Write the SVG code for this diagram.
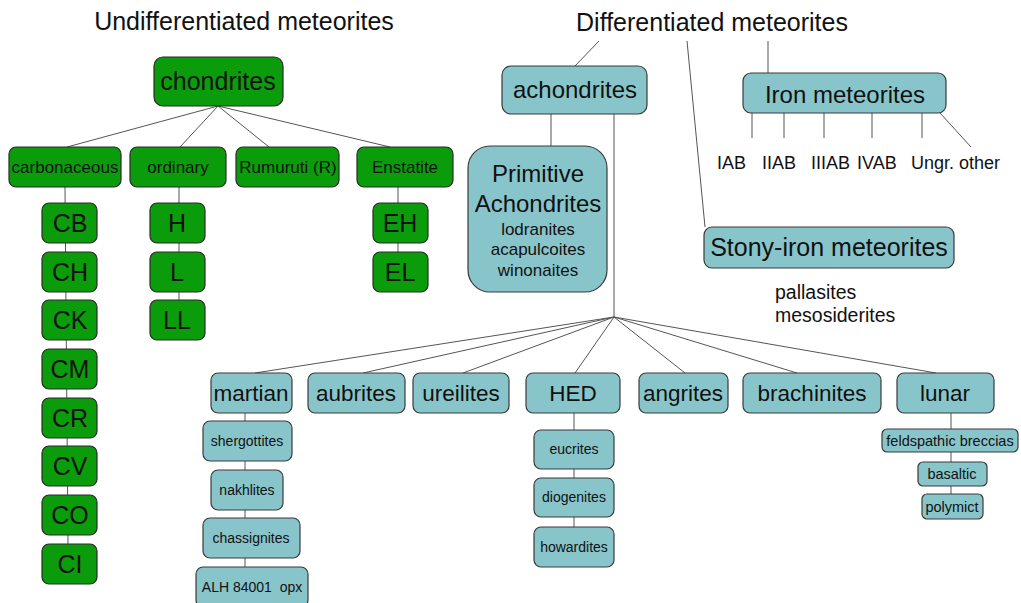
<svg xmlns="http://www.w3.org/2000/svg" width="1021" height="603" viewBox="0 0 1021 603">
<style>
text{font-family:"Liberation Sans",Arial,sans-serif;fill:#111;text-anchor:middle}
.g{fill:#0b9c0b;stroke:#2a2a2a;stroke-width:1.2}
.b{fill:#88c5cb;stroke:#3a3a3a;stroke-width:1.2}
.c line,.c path{stroke:#555;stroke-width:1;fill:none}
.t25{font-size:25px}
.t24{font-size:24px}
.t22{font-size:22.5px}
.t17{font-size:17px}
.t14{font-size:14px}
.lab{font-size:18px;text-anchor:start}
</style>
<rect width="1021" height="603" fill="#fff"/>
<text class="t25" x="244" y="30">Undifferentiated meteorites</text>
<text class="t25" x="712" y="31">Differentiated meteorites</text>
<g class="c">
<line x1="599" y1="41" x2="575" y2="66"/>
<line x1="687" y1="41" x2="705" y2="227"/>
<line x1="768" y1="41" x2="768" y2="73"/>
<line x1="218" y1="106" x2="67" y2="147"/>
<line x1="218" y1="106" x2="180" y2="147"/>
<line x1="218" y1="106" x2="269" y2="147"/>
<line x1="218" y1="106" x2="390" y2="147"/>
<line x1="65" y1="187" x2="68" y2="544"/>
<line x1="179" y1="187" x2="179" y2="301"/>
<line x1="398" y1="187" x2="398" y2="252"/>
<line x1="551" y1="114" x2="551" y2="146"/>
<line x1="614" y1="114" x2="614" y2="317"/>
<line x1="614" y1="317" x2="255" y2="373"/>
<line x1="614" y1="317" x2="363" y2="373"/>
<line x1="614" y1="317" x2="463" y2="373"/>
<line x1="614" y1="317" x2="575" y2="373"/>
<line x1="614" y1="317" x2="685" y2="373"/>
<line x1="614" y1="317" x2="797" y2="373"/>
<line x1="614" y1="317" x2="936" y2="373"/>
<line x1="245" y1="413" x2="245" y2="567"/>
<line x1="574" y1="413" x2="574" y2="527"/>
<line x1="951" y1="413" x2="951" y2="494"/>
<line x1="752" y1="113" x2="752" y2="138"/>
<line x1="784" y1="113" x2="784" y2="138"/>
<line x1="824" y1="113" x2="824" y2="138"/>
<line x1="872" y1="113" x2="872" y2="138"/>
<line x1="922" y1="113" x2="922" y2="138"/>
<line x1="940" y1="113" x2="971" y2="147"/>
</g>
<g id="chondrites"><rect class="g" x="154" y="57" width="129" height="49" rx="9"/><text class="t25" x="218" y="90">chondrites</text></g>
<g id="carbonaceous"><rect class="g" x="9" y="147" width="112" height="40" rx="7"/><text class="t17" x="65" y="173">carbonaceous</text></g>
<g id="ordinary"><rect class="g" x="130" y="147" width="96" height="40" rx="7"/><text class="t17" x="178" y="173">ordinary</text></g>
<g id="rumuruti"><rect class="g" x="236" y="147" width="103" height="40" rx="7"/><text class="t17" x="288" y="173">Rumuruti (R)</text></g>
<g id="enstatite"><rect class="g" x="357" y="147" width="96" height="40" rx="7"/><text class="t17" x="405" y="173">Enstatite</text></g>
<g id="CB"><rect class="g" x="42" y="203" width="55" height="40" rx="7"/><text class="t25" x="70" y="232">CB</text></g>
<g id="CH"><rect class="g" x="42" y="252" width="55" height="40" rx="7"/><text class="t25" x="70" y="281">CH</text></g>
<g id="CK"><rect class="g" x="42" y="300" width="55" height="40" rx="7"/><text class="t25" x="70" y="329">CK</text></g>
<g id="CM"><rect class="g" x="42" y="349" width="55" height="40" rx="7"/><text class="t25" x="70" y="378">CM</text></g>
<g id="CR"><rect class="g" x="42" y="398" width="55" height="40" rx="7"/><text class="t25" x="70" y="427">CR</text></g>
<g id="CV"><rect class="g" x="42" y="446" width="55" height="40" rx="7"/><text class="t25" x="70" y="475">CV</text></g>
<g id="CO"><rect class="g" x="42" y="495" width="55" height="40" rx="7"/><text class="t25" x="70" y="524">CO</text></g>
<g id="CI"><rect class="g" x="42" y="544" width="55" height="40" rx="7"/><text class="t25" x="70" y="573">CI</text></g>
<g id="H"><rect class="g" x="150" y="203" width="55" height="40" rx="7"/><text class="t25" x="177" y="232">H</text></g>
<g id="L"><rect class="g" x="150" y="252" width="55" height="40" rx="7"/><text class="t25" x="177" y="281">L</text></g>
<g id="LL"><rect class="g" x="150" y="300" width="55" height="40" rx="7"/><text class="t25" x="177" y="329">LL</text></g>
<g id="EH"><rect class="g" x="373" y="203" width="55" height="40" rx="7"/><text class="t25" x="400" y="232">EH</text></g>
<g id="EL"><rect class="g" x="373" y="252" width="55" height="40" rx="7"/><text class="t25" x="400" y="281">EL</text></g>
<g id="achondrites"><rect class="b" x="502" y="66" width="145" height="48" rx="9"/><text class="t24" x="575" y="98">achondrites</text></g>
<g id="primitive"><rect class="b" x="468" y="146" width="139" height="146" rx="22"/><text class="t24" x="538" y="182">Primitive</text><text class="t24" x="538" y="212">Achondrites</text><text class="t17" x="538" y="235">lodranites</text><text class="t17" x="538" y="255">acapulcoites</text><text class="t17" x="538" y="276">winonaites</text></g>
<g id="iron"><rect class="b" x="743" y="73" width="203" height="40" rx="8"/><text class="t24" x="845" y="103">Iron meteorites</text></g>
<g id="iron-groups"><text class="lab" x="717" y="169">IAB</text><text class="lab" x="762" y="169">IIAB</text><text class="lab" x="811" y="169">IIIAB</text><text class="lab" x="857" y="169">IVAB</text><text class="lab" x="911" y="169">Ungr. other</text></g>
<g id="stony-iron"><rect class="b" x="704" y="227" width="250" height="41" rx="8"/><text class="t25" x="829" y="256">Stony-iron meteorites</text></g>
<g id="stony-iron-types"><text class="lab" x="775" y="299" style="font-size:19.5px">pallasites</text><text class="lab" x="775" y="322" style="font-size:19.5px">mesosiderites</text></g>
<g id="martian"><rect class="b" x="211" y="373" width="81" height="40" rx="7"/><text class="t22" x="251" y="401">martian</text></g>
<g id="aubrites"><rect class="b" x="308" y="373" width="97" height="40" rx="7"/><text class="t22" x="356" y="401">aubrites</text></g>
<g id="ureilites"><rect class="b" x="413" y="373" width="96" height="40" rx="7"/><text class="t22" x="461" y="401">ureilites</text></g>
<g id="HED"><rect class="b" x="526" y="373" width="94" height="40" rx="7"/><text class="t22" x="573" y="401">HED</text></g>
<g id="angrites"><rect class="b" x="639" y="373" width="89" height="40" rx="7"/><text class="t22" x="683" y="401">angrites</text></g>
<g id="brachinites"><rect class="b" x="743" y="373" width="138" height="40" rx="7"/><text class="t22" x="812" y="401">brachinites</text></g>
<g id="lunar"><rect class="b" x="897" y="373" width="97" height="40" rx="7"/><text class="t22" x="945" y="401">lunar</text></g>
<g id="shergottites"><rect class="b" x="203" y="421" width="89" height="40" rx="7"/><text class="t14" x="247" y="446">shergottites</text></g>
<g id="nakhlites"><rect class="b" x="211" y="470" width="72" height="40" rx="7"/><text class="t14" x="247" y="495">nakhlites</text></g>
<g id="chassignites"><rect class="b" x="203" y="518" width="97" height="40" rx="7"/><text class="t14" x="251" y="543">chassignites</text></g>
<g id="alh84001"><rect class="b" x="196" y="567" width="112" height="40" rx="7"/><text class="t14" x="252" y="592" style="white-space:pre">ALH 84001  opx</text></g>
<g id="eucrites"><rect class="b" x="534" y="430" width="80" height="39" rx="7"/><text class="t14" x="574" y="454">eucrites</text></g>
<g id="diogenites"><rect class="b" x="534" y="478" width="80" height="39" rx="7"/><text class="t14" x="574" y="502">diogenites</text></g>
<g id="howardites"><rect class="b" x="534" y="527" width="80" height="40" rx="7"/><text class="t14" x="574" y="552">howardites</text></g>
<g id="feldspathic"><rect class="b" x="882" y="429" width="136" height="23" rx="5"/><text x="950" y="446" style="font-size:14.5px">feldspathic breccias</text></g>
<g id="basaltic"><rect class="b" x="918" y="462" width="69" height="24" rx="5"/><text x="952" y="479" style="font-size:14.5px">basaltic</text></g>
<g id="polymict"><rect class="b" x="922" y="494" width="61" height="25" rx="5"/><text x="952" y="512" style="font-size:14.5px">polymict</text></g>
</svg>
